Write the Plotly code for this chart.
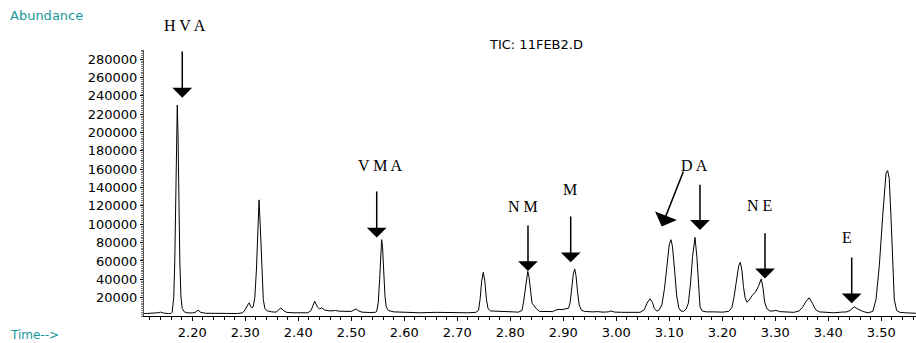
import plotly.graph_objects as go

# Chromatogram (TIC): retention time (min) and abundance
time_min = [
    2.109, 2.125, 2.135, 2.140, 2.146, 2.155, 2.160,
    2.162, 2.165, 2.167, 2.169, 2.1705, 2.1717, 2.173, 2.1745, 2.1765, 2.1785, 2.181, 2.185,
    2.190, 2.200, 2.206, 2.211, 2.216, 2.225, 2.240, 2.260, 2.270, 2.285, 2.295,
    2.300, 2.3045, 2.3075, 2.310, 2.312, 2.315, 2.318, 2.321, 2.3235, 2.326, 2.3285,
    2.331, 2.334, 2.337, 2.342, 2.350, 2.358, 2.363, 2.367, 2.372, 2.378, 2.390,
    2.405, 2.418, 2.424, 2.428, 2.431, 2.436, 2.440, 2.444, 2.450, 2.460, 2.470,
    2.478, 2.490, 2.500, 2.505, 2.509, 2.514, 2.520, 2.535, 2.545,
    2.548, 2.551, 2.5535, 2.5555, 2.5573, 2.559, 2.561, 2.5635, 2.566, 2.570,
    2.580, 2.600, 2.630, 2.660, 2.690, 2.720, 2.735,
    2.740, 2.743, 2.746, 2.749, 2.752, 2.755, 2.758, 2.763, 2.775, 2.790, 2.805,
    2.815, 2.822, 2.825, 2.828, 2.831, 2.833, 2.8355, 2.838, 2.841, 2.845, 2.849,
    2.855, 2.870, 2.880, 2.886, 2.892, 2.898, 2.904, 2.910,
    2.913, 2.916, 2.919, 2.9215, 2.924, 2.927, 2.930, 2.934, 2.940, 2.955, 2.965,
    2.975, 2.985, 2.990, 2.996, 3.010, 3.030, 3.045, 3.053, 3.058, 3.0636, 3.068,
    3.072, 3.076, 3.080, 3.086, 3.091, 3.096, 3.100, 3.1032, 3.106, 3.110, 3.114,
    3.118, 3.122, 3.127, 3.132, 3.136, 3.140, 3.144, 3.1485, 3.152, 3.155, 3.158,
    3.162, 3.170, 3.185, 3.200, 3.212, 3.218, 3.222, 3.227, 3.231, 3.234, 3.237,
    3.240, 3.243, 3.2465, 3.250, 3.256, 3.2636, 3.268, 3.2736, 3.277, 3.280, 3.284,
    3.290, 3.296, 3.301, 3.308, 3.320, 3.335, 3.345, 3.352, 3.358, 3.364, 3.370,
    3.376, 3.383, 3.395, 3.410, 3.425, 3.435, 3.441, 3.449, 3.456, 3.465, 3.475,
    3.484, 3.490, 3.4962, 3.5026, 3.5089, 3.512, 3.515, 3.5183, 3.5215, 3.5245, 3.529,
    3.535, 3.545, 3.555, 3.5655,
]
abundance = [
    2600, 2800, 3500, 4200, 3200, 2600, 2800,
    4000, 20000, 60000, 130000, 200000, 229900, 200000, 130000, 60000, 22000, 8000, 4500,
    3500, 3300, 4200, 6300, 4000, 3000, 2800, 2600, 3000, 2700, 3500,
    7000, 12000, 14300, 10500, 9000, 10000, 20000, 50000, 95000, 126600, 95000,
    50000, 18000, 8000, 5500, 4500, 4200, 6500, 8900, 6000, 4000, 3500,
    3300, 3500, 6000, 12000, 16100, 10000, 7500, 8900, 6500, 5500, 6000,
    5200, 5000, 5000, 6500, 7600, 5500, 4200, 3800, 4000,
    5000, 15000, 40000, 70000, 83200, 75000, 50000, 22000, 10000, 6000,
    4500, 3800, 3500, 4000, 3600, 3500, 4000,
    6000, 18000, 38000, 47600, 38000, 18000, 8000, 5500, 5000, 4500, 4500,
    4200, 6000, 15000, 30000, 44000, 48700, 42000, 26000, 14000, 11000, 8000,
    5000, 4500, 4800, 6500, 7200, 7000, 7500, 8500,
    15000, 30000, 46000, 51300, 44000, 26000, 12000, 6500, 5000, 4500, 4800,
    4200, 4500, 5500, 4300, 4000, 3800, 4000, 7000, 14000, 18700, 15000,
    8000, 5500, 6000, 12000, 30000, 58000, 78000, 83200, 76000, 50000, 22000,
    9000, 5500, 5000, 8000, 14000, 35000, 65000, 85700, 65000, 30000, 10000,
    5500, 4500, 4500, 4200, 5000, 9000, 20000, 40000, 55000, 58500, 50000,
    32000, 20000, 15000, 17000, 22000, 27000, 32000, 40400, 30000, 15000, 8000,
    5500, 5500, 6200, 4800, 4200, 4000, 5500, 10000, 16000, 19800, 14000,
    7000, 4500, 3800, 3500, 4200, 4500, 6000, 10000, 7500, 5000, 3500,
    5000, 17900, 54100, 108500, 155700, 158500, 150000, 108500, 60000, 17900, 6000,
    4000, 3500, 3200, 3000,
]

# Tick values / labels
x_ticks = [2.20, 2.30, 2.40, 2.50, 2.60, 2.70, 2.80, 2.90, 3.00, 3.10, 3.20, 3.30, 3.40, 3.50]
y_ticks = [20000, 40000, 60000, 80000, 100000, 120000, 140000, 160000,
           180000, 200000, 220000, 240000, 260000, 280000]

# Peak labels: text and arrows (time, abundance)
peak_names = ["H V A", "V M A", "N M", "M", "D A", "N E", "E"]
label_t = [2.1862, 2.556, 2.8239, 2.9126, 3.1485, 3.2693, 3.4358]
label_a = [317000, 164600, 119900, 138100, 164600, 121000, 85800]
arrow_start_t = [2.1811, 2.548, 2.8334, 2.914, 3.1277, 3.1579, 3.2806, 3.4442]
arrow_start_a = [290000, 137400, 100300, 110100, 159200, 144700, 91900, 65400]
arrow_tip_t = [2.1811, 2.548, 2.8334, 2.914, 3.0857, 3.1579, 3.2806, 3.4442]
arrow_tip_a = [238000, 85500, 49000, 58500, 97500, 93800, 41000, 13800]
arrow_head_size = [2.2, 2.2, 2.2, 2.2, 2.6, 2.2, 2.2, 2.2]

W, H = 916, 343
L, R, T, B = 144, 0, 50, 27
Y_MAX = 290000

fig = go.Figure()
fig.add_trace(go.Scatter(
    x=time_min, y=abundance, mode="lines",
    line=dict(color="black", width=1), hoverinfo="skip", showlegend=False,
))

annotations = []
for name, tx, ta in zip(peak_names, label_t, label_a):
    annotations.append(dict(
        x=tx, y=ta / Y_MAX, xref="x", yref="paper", text=name, showarrow=False,
        font=dict(family="Liberation Serif", size=16, color="black"),
        xanchor="center", yanchor="middle",
    ))
for sx, sa, ex, ea, hs in zip(arrow_start_t, arrow_start_a, arrow_tip_t, arrow_tip_a, arrow_head_size):
    annotations.append(dict(
        x=ex, y=ea, ax=sx, ay=sa, xref="x", yref="y", axref="x", ayref="y",
        text="", showarrow=True, arrowhead=1, arrowsize=hs, arrowwidth=1.5,
        arrowcolor="black", standoff=0,
    ))

teal = "#17979a"
pw, ph = W - L - R, H - T - B
def paper_xy(px, py):
    return (px - L) / pw, (H - B - py) / ph

ax_, ay_ = paper_xy(8, 16)
annotations.append(dict(x=ax_, y=ay_, xref="paper", yref="paper", text="Abundance",
                        showarrow=False, xanchor="left", yanchor="middle",
                        font=dict(family="DejaVu Sans", size=13, color=teal)))
tx_, ty_ = paper_xy(536, 44)
annotations.append(dict(x=tx_, y=ty_, xref="paper", yref="paper", text="TIC: 11FEB2.D",
                        showarrow=False, xanchor="center", yanchor="middle",
                        font=dict(family="DejaVu Sans", size=13, color="black")))
mx_, my_ = paper_xy(8, 335)
annotations.append(dict(x=mx_, y=my_, xref="paper", yref="paper", text="Time-->",
                        showarrow=False, xanchor="left", yanchor="middle",
                        font=dict(family="DejaVu Sans", size=12, color=teal)))

fig.update_layout(
    width=W, height=H,
    margin=dict(l=L, r=R, t=T, b=B, pad=0, autoexpand=False),
    paper_bgcolor="white", plot_bgcolor="white",
    annotations=annotations,
    font=dict(family="DejaVu Sans", size=12, color="black"),
)
fig.update_xaxes(
    range=[2.1089, 3.5655], tickvals=x_ticks, tickformat=".2f",
    showgrid=False, zeroline=False, showline=True, linecolor="black", linewidth=1,
    ticks="outside", ticklen=4, tickwidth=1, tickcolor="black",
    minor=dict(dtick=0.02, tick0=2.2, ticks="outside", ticklen=3, tickcolor="black", showgrid=False),
    tickfont=dict(family="DejaVu Sans", size=13, color="black"),
    automargin=False,
)
fig.update_yaxes(
    range=[0, Y_MAX], tickvals=y_ticks, tickformat="d",
    showgrid=False, zeroline=False, showline=True, linecolor="#555555", linewidth=1,
    ticks="outside", ticklen=3, tickwidth=1, tickcolor="black",
    minor=dict(dtick=2000, ticks="outside", ticklen=2, tickcolor="#777777", showgrid=False),
    tickfont=dict(family="DejaVu Sans", size=13, color="black"),
    automargin=False,
)

fig.write_html("out.html", config={"displayModeBar": False},
               post_script="document.body.style.margin='0';")
